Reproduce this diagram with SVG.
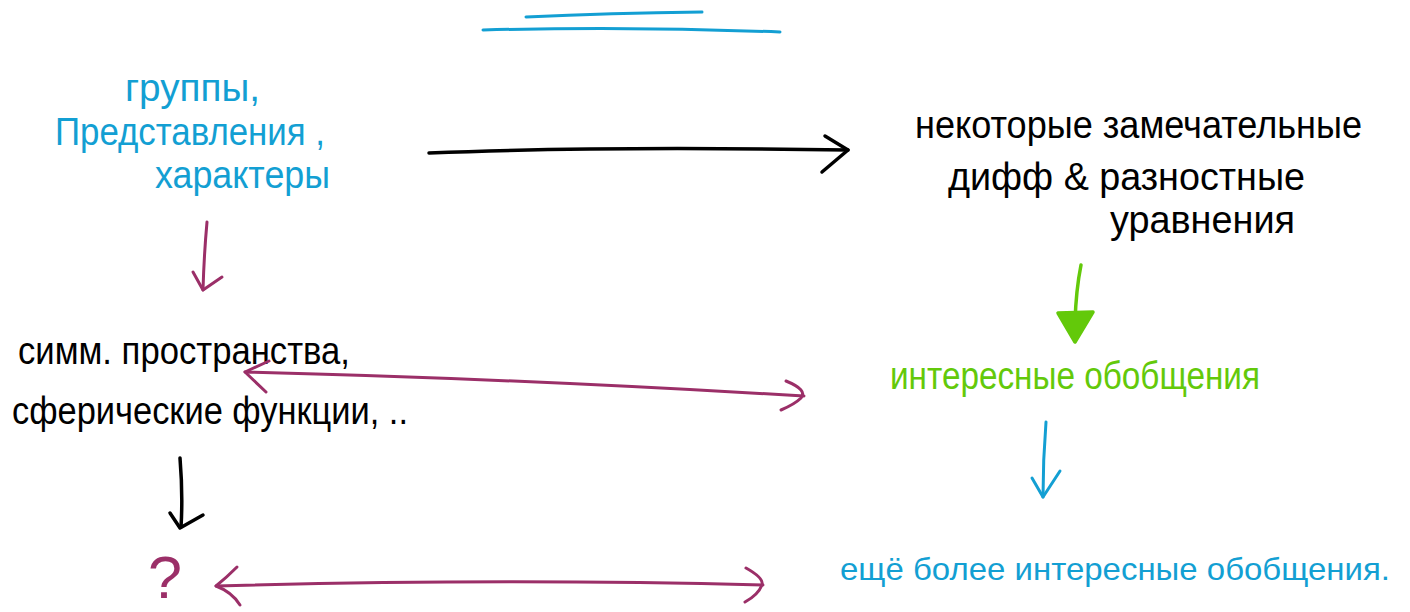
<svg xmlns="http://www.w3.org/2000/svg" width="1410" height="612" viewBox="0 0 1410 612">
<style>
  text { font-family: "Liberation Sans", "DejaVu Sans", sans-serif; font-size: 38px; }
  .blue { fill: #139fd3; }
  .black { fill: #000; }
  .green { fill: #63c90a; }
  .purple { fill: #9b2f68; }
  .ln { fill: none; stroke-linecap: round; stroke-linejoin: round; }
  .sb { stroke: #139fd3; stroke-width: 3; }
  .sk { stroke: #000; stroke-width: 3.5; }
  .sp { stroke: #9b2f68; stroke-width: 3; }
  .sg { stroke: #63c90a; stroke-width: 3.5; }
  .gfill { fill: #63c90a; stroke: #63c90a; stroke-width: 3.5; stroke-linejoin: round; }
</style>
<rect width="1410" height="612" fill="#fff"/>

<g id="title-lines">
  <path class="ln sb" d="M526 17 Q610 13 702 12"/>
  <path class="ln sb" d="M483 30 Q630 26 780 32"/>
</g>

<g id="node-groups">
  <text class="blue" x="125" y="101" textLength="135" lengthAdjust="spacingAndGlyphs">группы,</text>
  <text class="blue" x="55" y="145" textLength="270" lengthAdjust="spacingAndGlyphs">Представления ,</text>
  <text class="blue" x="155" y="188" textLength="175" lengthAdjust="spacingAndGlyphs">характеры</text>
</g>

<g id="node-equations">
  <text class="black" x="915" y="138" textLength="447" lengthAdjust="spacingAndGlyphs">некоторые замечательные</text>
  <text class="black" x="948" y="190" textLength="357" lengthAdjust="spacingAndGlyphs">дифф &amp; разностные</text>
  <text class="black" x="1110" y="233" textLength="185" lengthAdjust="spacingAndGlyphs">уравнения</text>
</g>

<g id="node-symm">
  <text class="black" x="18" y="364" textLength="332" lengthAdjust="spacingAndGlyphs">симм. пространства,</text>
  <text class="black" x="12" y="424" textLength="396" lengthAdjust="spacingAndGlyphs">сферические функции, ..</text>
</g>

<g id="node-generalizations">
  <text class="green" x="890" y="389" textLength="370" lengthAdjust="spacingAndGlyphs">интересные обобщения</text>
</g>

<g id="node-question">
  <text class="purple" x="148" y="598" style="font-size:60px" textLength="34" lengthAdjust="spacingAndGlyphs">?</text>
</g>

<g id="node-more-generalizations">
  <text class="blue" x="840" y="580" style="font-size:32px" textLength="550" lengthAdjust="spacingAndGlyphs">ещё более интересные обобщения.</text>
</g>

<g id="connectors">
  <!-- groups -> equations -->
  <path class="ln sk" d="M429 153 Q600 146 848 150"/>
  <path class="ln sk" d="M825 136 L848 150 L822 172"/>
  <!-- equations -> generalizations (green) -->
  <path class="ln sg" d="M1081 265 Q1076 290 1075 322"/>
  <path class="gfill" d="M1058 313 L1093 312 L1075 342 Z"/>
  <!-- generalizations -> more (blue) -->
  <path class="ln sb" d="M1046 422 Q1043 460 1043 497"/>
  <path class="ln sb" d="M1032 478 L1043 497 L1060 471"/>
  <!-- groups -> symm (purple) -->
  <path class="ln sp" d="M207 222 Q204 255 203 290"/>
  <path class="ln sp" d="M193 272 L203 290 L222 277"/>
  <!-- symm <-> generalizations (purple) -->
  <path class="ln sp" d="M245 372 Q500 378 804 396"/>
  <path class="ln sp" d="M269 361 L245 372 L266 392"/>
  <path class="ln sp" d="M786 381 Q808 390 801 398 Q795 404 781 410"/>
  <!-- symm -> ? (black) -->
  <path class="ln sk" d="M180 458 Q183 495 181 527"/>
  <path class="ln sk" d="M170 513 L180 528 L203 515"/>
  <!-- ? <-> more (purple) -->
  <path class="ln sp" d="M216 586 Q500 578 763 585"/>
  <path class="ln sp" d="M237 567 Q226 578 216 586 Q232 592 240 605"/>
  <path class="ln sp" d="M746 568 Q764 578 762 585 Q758 595 745 602"/>
</g>
</svg>
